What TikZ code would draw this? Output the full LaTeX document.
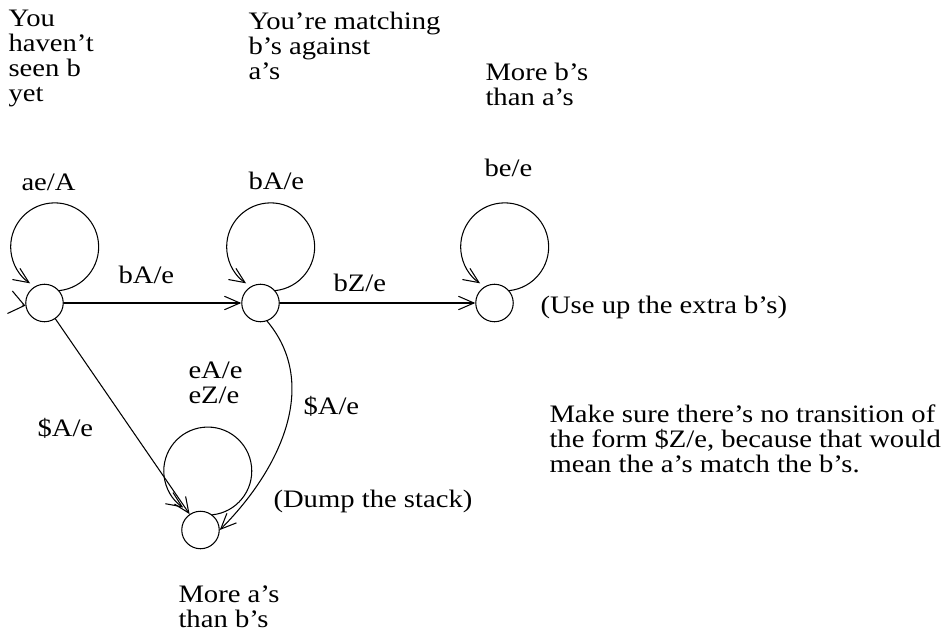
\documentclass[tikz,border=0pt]{standalone}
\usepackage{fontspec}
\setmainfont{Liberation Serif}[FakeStretch=1.14]
\usetikzlibrary{arrows.meta,calc}

\begin{document}
\begin{tikzpicture}[x=0.02cm,y=-0.02cm,line width=0.6pt,line cap=round,line join=round,
  >={Straight Barb[length=0.31cm,width=0.27cm]},
  state/.style={draw,circle,minimum size=0.75cm,inner sep=0pt},
  lbl/.style={anchor=base west,inner sep=0pt,font={\fontsize{14.3}{14.2}\selectfont}},
  note/.style={anchor=north west,align=left,inner sep=0pt,font={\fontsize{14.3}{14.2}\selectfont}}]
  \useasboundingbox (0,0) rectangle (951,642);
  % states
  \node[state] (q0) at (44.5,303) {};\node[state] (q1) at (260.5,303) {};
  \node[state] (q2) at (494.5,303) {};\node[state] (q3) at (200.5,530) {};
  \coordinate (init) at ($(q0.188)+(-3,-0.66)$);
  % comments over the states
  \node[note] (seen) at (8,10) {You\\haven’t\\seen b\\yet};
  \node[note] (match) at (248,12) {You’re matching\\b’s against\\a’s};
  \node[note] (moreb) at (485,63) {More b’s\\than a’s};
  \node[note] (morea) at (178,585) {More a’s\\than b’s};
  \node[note] (sure) at (549,404) {Make sure there’s no transition of\\the form \$Z/e, because that would\\mean the a’s match the b’s.};
  \node[lbl] (extra) at (540,314) {(Use up the extra b’s)};
  \node[lbl] (dump) at (273,507) {(Dump the stack)};
  % transitions
  \draw[-{Straight Barb[length=0.3cm,width=0.46cm]}] (init) -- (q0.188);
  \draw[->] (q0) -- (q1);\draw[->] (q1) -- (q2);\draw[->] (q0) -- (q3);
  \draw[->] (q1.-70) to[out=-50,in=45] (q3.east);
  \draw[->] (q0.40) arc[start angle=-84,end angle=236,radius=0.88cm];
  \draw[->] (q1.40) arc[start angle=-84,end angle=236,radius=0.88cm];
  \draw[->] (q2.40) arc[start angle=-84,end angle=236,radius=0.88cm];
  \draw[->] (q3.52) arc[start angle=-84,end angle=236,radius=0.88cm];
  \node[lbl] (l00) at (21,191) {ae/A};\node[lbl] (l11) at (248,190) {bA/e};\node[lbl] (l22) at (484,177) {be/e};
  \node[lbl] (l01) at (118,283) {bA/e};\node[lbl] (l12) at (333,292) {bZ/e};
  \node[lbl] (l33a) at (188,378) {eA/e};\node[lbl] (l33b) at (188,403) {eZ/e};
  \node[lbl] (l03) at (37,436) {\$A/e};\node[lbl] (l13) at (303,414) {\$A/e};
\end{tikzpicture}
\end{document}
